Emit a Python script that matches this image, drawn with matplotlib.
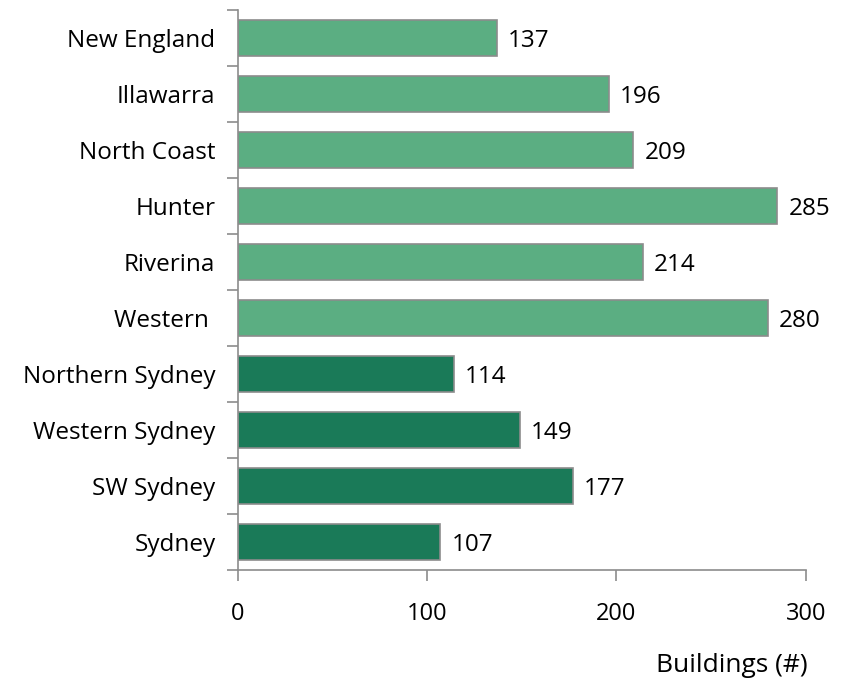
import numpy as np
import matplotlib.pyplot as plt
from matplotlib.ticker import FixedLocator

regions = ["New England", "Illawarra", "North Coast", "Hunter", "Riverina",
           "Western ", "Northern Sydney", "Western Sydney", "SW Sydney", "Sydney"]
buildings = [137, 196, 209, 285, 214, 280, 114, 149, 177, 107]
is_regional = [True] * 6 + [False] * 4

light_green = "#5bae82"
dark_green = "#1a7a58"
grey = "#8c8c8c"

plt.rcParams["font.family"] = ["Open Sans", "DejaVu Sans"]

fig = plt.figure(figsize=(8.49, 6.85), dpi=100)
ax = fig.add_axes([0.280, 0.168, 0.669, 0.817])

y = np.arange(len(regions))
colors = [light_green if r else dark_green for r in is_regional]
ax.barh(y, buildings, height=0.64, color=colors, edgecolor=grey, linewidth=1.2)

# value labels just right of each bar
for yi, v in zip(y, buildings):
    ax.annotate(str(v), (v, yi), xytext=(8, -2), textcoords="offset points",
                va="center", ha="left", fontsize=17.5)

ax.set_ylim(len(regions) - 0.5, -0.5)
ax.set_xlim(0, 300)
ax.set_yticks(y)
ax.set_yticklabels(regions, fontsize=17.5)
ax.yaxis.set_minor_locator(FixedLocator(np.arange(-0.5, len(regions), 1.0)))
ax.tick_params(axis="y", which="major", length=0, pad=16)
ax.tick_params(axis="y", which="minor", length=8, color=grey, width=1.2)
ax.set_xticks([0, 100, 200, 300])
ax.tick_params(axis="x", length=8, color=grey, width=1.2, labelsize=17, pad=15)

for side in ["top", "right"]:
    ax.spines[side].set_visible(False)
for side in ["left", "bottom"]:
    ax.spines[side].set_color(grey)
    ax.spines[side].set_linewidth(1.2)

fig.text(0.951, 0.029, "Buildings (#)", ha="right", va="center", fontsize=19)

fig.savefig("out.png", dpi=100)
